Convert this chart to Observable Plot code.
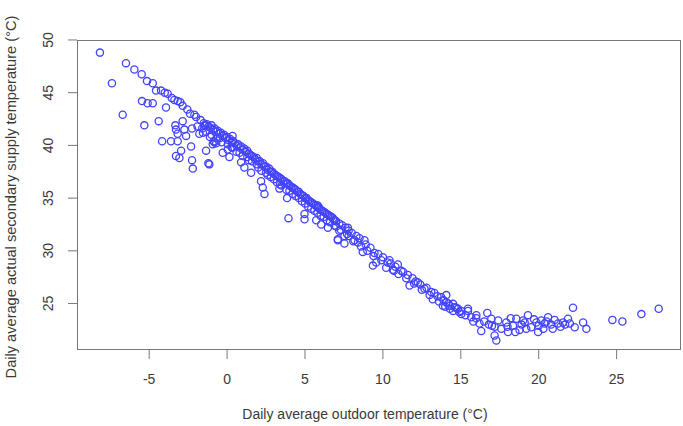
<!DOCTYPE html>
<html><head><meta charset="utf-8">
<script src="https://cdn.jsdelivr.net/npm/d3@7"></script>
<script src="https://cdn.jsdelivr.net/npm/@observablehq/plot@0.6"></script>
<style>html,body{margin:0;padding:0;background:#fff}</style>
</head><body><div id="chart"></div>
<script>
const outdoorTemp = [
-8.16,-6.49,-7.39,-5.95,-5.48,-5.14,-4.77,-4.56,-4.24,-3.81,
-3.38,-3.17,-2.85,-5.46,-5.1,-4.77,-3.92,-6.7,-5.31,-4.39,
-2.38,-1.99,-2.85,-3.32,-3.28,-2.74,-2.25,-4.17,-3.6,-3.17,
-3.17,-2.63,-2.31,-2.95,-3.28,-3.06,-2.25,-2.2,-1.14,-1.78,
-1.46,-4.0,-3.55,-3.0,-2.55,-2.1,-1.7,-1.5,-1.4,-1.3,
-1.2,-1.1,-1.0,-0.9,-0.8,-0.7,-0.6,-0.5,-0.4,-0.3,
-0.2,-0.1,0.0,0.1,0.2,0.3,0.4,-1.35,-1.0,-0.6,
-1.6,-0.85,-0.35,-1.35,-0.82,-0.28,0.15,0.37,-1.2,-0.92,
0.04,0.9,1.11,1.54,2.18,2.29,2.4,3.36,3.85,3.94,
4.97,4.97,5.72,6.04,5.82,6.47,7.11,7.53,0.5,0.6,
0.7,0.8,0.9,1.0,1.1,1.2,1.3,1.4,1.5,1.6,
1.7,1.8,1.9,2.0,2.1,2.2,2.3,2.4,2.5,2.6,
2.7,2.8,2.9,3.0,3.1,3.2,3.3,3.4,3.5,3.6,
3.7,3.8,3.9,4.0,4.1,4.2,4.3,4.4,4.5,4.6,
4.7,4.8,4.9,5.0,5.1,5.2,5.3,5.4,5.5,5.6,
5.7,5.8,5.9,6.0,6.1,6.2,6.3,6.4,6.5,6.6,
6.7,6.8,6.9,7.0,7.2,7.4,7.6,7.8,8.0,0.8,
1.3,1.9,2.5,3.0,3.5,4.2,4.6,5.2,5.6,6.2,
6.6,7.3,7.8,0.3,1.6,2.8,4.0,5.4,6.9,6.89,
7.75,7.11,7.53,8.18,8.82,8.71,9.46,9.36,9.57,10.21,
10.42,10.96,10.64,11.18,11.6,11.71,12.25,12.67,13.1,13.74,
14.07,14.5,14.82,15.46,15.03,13.85,8.3,8.5,8.4,8.9,
9.2,9.7,10.0,10.5,10.8,11.3,11.9,12.1,12.4,12.8,
13.3,13.5,13.9,14.2,14.7,14.3,14.9,13.6,14.07,14.28,
14.6,15.03,15.46,15.67,15.99,16.2,16.31,16.7,16.96,17.17,
17.17,17.28,17.92,18.03,18.35,18.56,18.77,19.1,19.31,19.52,
19.85,19.96,20.17,20.38,20.6,21.02,21.24,21.56,21.88,22.2,
22.31,22.85,23.06,15.3,15.8,16.5,17.0,17.4,17.6,18.2,
18.5,18.9,19.2,19.7,20.0,20.3,20.8,20.5,21.4,21.7,
16.8,18.0,24.73,25.37,26.59,27.7,
0.6,1.0,1.4,2.0,2.2,2.6,3.2,3.4,3.8,4.4,
4.8,5.0,5.8,6.0,6.4,7.0,7.2,7.7,8.1,8.6,
9.0,9.4,9.9,10.3,10.7,11.0,11.5,12.0,12.5,13.0,
13.2,14.0,14.5,-1.9,-1.55,-1.1,-0.7,-0.45,0.05,0.35,
16.0,19.0,20.9,22.0
];
const supplyTemp = [
48.8,47.8,45.9,47.2,46.75,46.1,45.9,45.2,45.2,44.9,
44.3,44.2,43.75,44.2,44.0,44.0,43.6,42.9,41.9,42.3,
43.0,42.7,42.3,41.9,41.5,41.5,41.6,40.4,40.4,40.4,
41.1,40.9,39.9,39.5,39.0,38.8,38.6,37.8,38.2,41.1,
41.9,45.0,44.5,44.1,43.4,42.9,42.4,42.1,41.9,42.0,
41.8,41.7,41.9,41.5,41.6,41.3,41.4,41.1,41.2,40.9,
41.0,40.7,40.8,40.5,40.6,40.3,40.4,41.3,41.0,40.7,
41.6,40.4,40.3,39.5,40.3,39.3,38.9,39.8,38.3,40.1,
39.6,38.4,37.9,37.4,36.6,36.0,35.4,35.9,35.0,33.1,
33.5,33.0,32.9,32.5,34.3,32.2,31.1,31.4,40.2,40.0,
40.1,39.8,39.9,39.6,39.7,39.4,39.5,39.2,39.1,39.0,
38.9,38.7,38.8,38.5,38.5,38.2,38.3,38.0,38.0,37.7,
37.8,37.5,37.5,37.3,37.2,37.1,37.0,36.9,36.8,36.6,
36.6,36.4,36.4,36.2,36.1,36.0,35.9,35.8,35.6,35.6,
35.4,35.3,35.2,35.0,35.0,34.8,34.7,34.6,34.5,34.4,
34.3,34.1,34.1,33.9,33.8,33.7,33.6,33.5,33.4,33.3,
33.2,33.1,32.9,32.8,32.6,32.4,32.2,31.9,31.7,39.3,
38.9,38.2,37.4,36.8,36.2,35.4,35.0,34.2,33.8,33.2,
32.7,32.0,31.4,39.8,38.5,37.0,35.7,34.0,32.4,32.9,
32.2,31.0,30.7,31.0,31.0,29.9,29.8,28.6,28.9,28.4,
29.1,28.7,28.2,28.1,27.7,26.7,27.0,26.4,26.1,25.6,
25.1,24.97,24.5,24.3,24.0,24.8,31.4,31.2,30.8,30.6,
30.3,29.7,29.4,28.8,28.5,28.0,27.4,27.1,26.8,26.5,
26.0,25.7,25.3,25.0,24.6,24.5,24.2,25.2,25.8,24.8,
24.65,24.3,24.5,23.7,23.6,23.1,22.4,24.1,23.55,22.8,
21.97,21.5,23.2,22.3,22.9,23.55,22.5,23.2,23.9,22.75,
23.2,22.3,23.4,23.1,23.7,23.45,23.1,23.2,23.55,24.6,
22.75,23.2,22.6,23.9,23.3,23.3,22.9,23.4,22.6,23.6,
22.3,23.0,22.6,23.5,22.9,22.6,23.0,23.3,22.8,23.0,
23.0,22.8,23.45,23.3,24.0,24.5,
39.4,39.0,38.6,37.9,37.6,37.2,36.5,36.3,35.8,35.2,
34.7,34.5,33.6,33.3,32.9,32.3,31.9,31.6,30.9,30.4,
30.0,29.5,29.1,28.9,28.1,27.8,27.4,26.9,26.3,25.8,
25.4,24.7,24.3,41.8,41.2,40.8,40.2,40.7,40.1,40.9,
23.9,23.4,22.6,23.1
];
const xTicks = [-5, 0, 5, 10, 15, 20, 25];
const yTicks = [25, 30, 35, 40, 45, 50];
const xTitle = "Daily average outdoor temperature (°C)";
const yTitle = "Daily average actual secondary supply temperature (°C)";

const data = outdoorTemp.map((x, i) => ({x, y: supplyTemp[i]}));
const textColor = "#3a3a3a";

const chart = Plot.plot({
  width: 683,
  height: 426,
  marginLeft: 77,
  marginRight: 3,
  marginTop: 40,
  marginBottom: 77,
  style: {fontFamily: "'Liberation Sans', Arial, sans-serif", fontSize: "14px", color: textColor, background: "#fff"},
  x: {domain: [-9.6, 29.1]},
  y: {domain: [20.64, 49.95]},
  marks: [
    Plot.axisX({ticks: xTicks, tickSize: 10, tickPadding: 15, tickFormat: d => String(d), label: null, stroke: "#777", fill: textColor}),
    Plot.axisY({ticks: yTicks, tickSize: 9, tickFormat: () => "", label: null, stroke: "#777"}),
    Plot.text(yTicks, {y: d => d, text: d => String(d), frameAnchor: "left", textAnchor: "middle", lineAnchor: "middle", dx: -29, rotate: -90, fill: textColor, fontSize: 14}),
    Plot.text([xTitle], {text: d => d, frameAnchor: "bottom", textAnchor: "middle", lineAnchor: "middle", dy: 65, dx: -14, fill: textColor, fontSize: 14}),
    Plot.text([yTitle], {text: d => d, frameAnchor: "left", textAnchor: "middle", lineAnchor: "middle", dx: -66, dy: 2, rotate: -90, fill: textColor, fontSize: 14.6}),
    Plot.frame({stroke: "#777"}),
    Plot.dot(data, {x: "x", y: "y", r: 3.6, stroke: "#4343ff", strokeWidth: 1.3, fill: "none"})
  ]
});
document.getElementById("chart").appendChild(chart);
</script>
</body></html>
